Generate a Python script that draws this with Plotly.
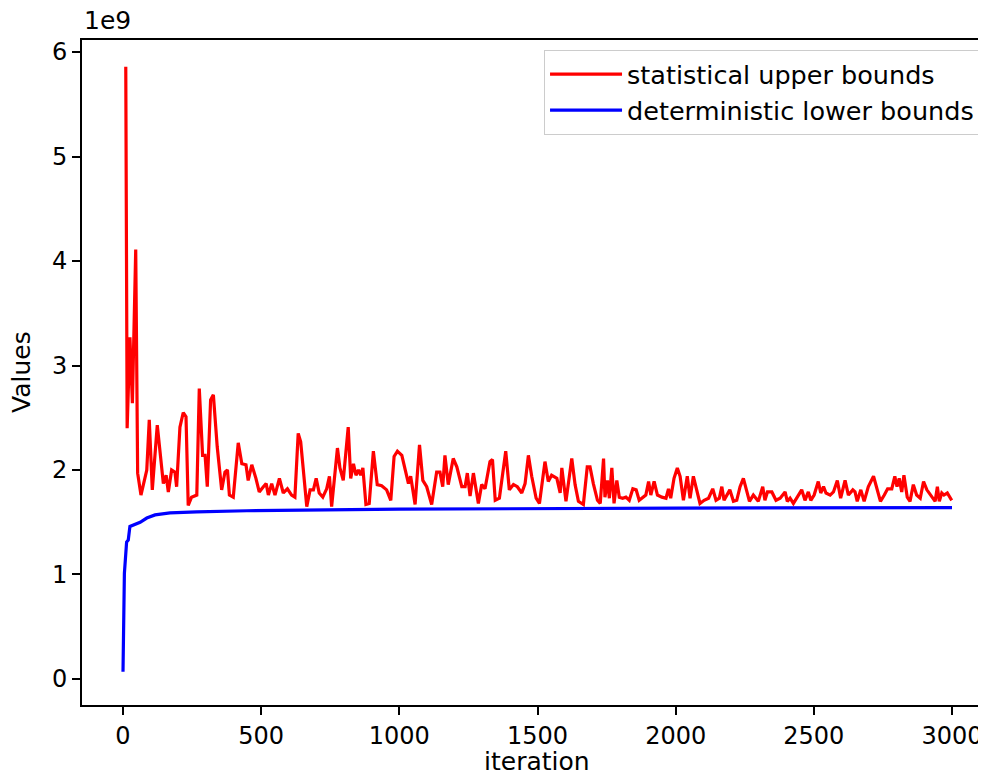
import numpy as np
import plotly.graph_objects as go

# statistical upper bounds (values in units of 1e9)
upper_iter = [10, 15, 25, 34, 46, 53, 65, 86, 95, 106, 124, 146, 156, 164, 176, 188, 194, 206, 218, 228,
              236, 248, 267, 276, 288, 297, 305, 317, 327, 341, 357, 369, 378, 385, 399, 417, 430, 445, 453, 466,
              481, 493, 508, 518, 526, 538, 550, 566, 580, 595, 610, 622, 634, 643, 665, 677, 689, 699, 710, 723,
              737, 747, 755, 776, 785, 797, 815, 824, 834, 843, 852, 860, 868, 879, 891, 906, 920, 936, 954, 969,
              981, 993, 1009, 1021, 1033, 1041, 1057, 1073, 1085, 1099, 1117, 1135, 1147, 1157, 1165, 1177, 1195, 1208, 1226, 1238,
              1246, 1256, 1268, 1286, 1298, 1310, 1328, 1337, 1347, 1362, 1374, 1385, 1398, 1413, 1427, 1443, 1455, 1467, 1479, 1495,
              1507, 1527, 1539, 1551, 1570, 1582, 1588, 1603, 1624, 1636, 1648, 1666, 1680, 1690, 1702, 1717, 1727, 1739, 1744, 1753,
              1760, 1769, 1777, 1787, 1796, 1808, 1820, 1832, 1845, 1857, 1868, 1880, 1892, 1902, 1910, 1922, 1934, 1950, 1965, 1974,
              1982, 1994, 2006, 2016, 2028, 2042, 2052, 2064, 2076, 2088, 2103, 2119, 2134, 2146, 2158, 2167, 2175, 2185, 2196, 2209,
              2221, 2233, 2245, 2257, 2267, 2281, 2299, 2315, 2323, 2332, 2348, 2363, 2378, 2396, 2404, 2414, 2426, 2440, 2456, 2468,
              2480, 2489, 2501, 2516, 2525, 2535, 2544, 2559, 2571, 2585, 2597, 2613, 2625, 2641, 2649, 2657, 2670, 2682, 2697, 2716,
              2728, 2741, 2755, 2767, 2782, 2793, 2801, 2809, 2818, 2826, 2838, 2848, 2860, 2872, 2885, 2897, 2909, 2923, 2939, 2947,
              2954, 2963, 2971, 2983, 2999]
upper_vals = [5.86, 2.40, 3.27, 2.64, 4.11, 1.97, 1.76, 2.00, 2.48, 1.81, 2.43, 1.87, 1.95, 1.79, 2.00, 1.98, 1.84, 2.41, 2.55, 2.51,
              1.66, 1.74, 1.76, 2.78, 2.14, 2.14, 1.84, 2.67, 2.72, 2.22, 1.81, 1.98, 2.00, 1.76, 1.74, 2.26, 2.06, 2.05, 1.90, 2.05,
              1.92, 1.79, 1.84, 1.87, 1.76, 1.87, 1.76, 1.92, 1.78, 1.82, 1.76, 1.74, 2.35, 2.27, 1.65, 1.81, 1.81, 1.92, 1.78, 1.74,
              1.82, 1.94, 1.65, 2.21, 2.02, 1.90, 2.41, 1.92, 2.06, 1.95, 2.00, 1.95, 2.02, 1.67, 1.68, 2.18, 1.86, 1.85, 1.81, 1.71,
              2.13, 2.18, 2.14, 2.00, 1.87, 1.94, 1.67, 2.24, 1.90, 1.84, 1.67, 1.98, 1.98, 1.84, 2.14, 1.86, 2.11, 2.03, 1.84, 1.84,
              1.97, 1.75, 1.97, 1.68, 1.86, 1.82, 2.08, 2.10, 1.71, 1.73, 1.94, 2.18, 1.81, 1.86, 1.84, 1.78, 1.87, 2.14, 1.94, 1.73,
              1.68, 2.08, 1.89, 1.95, 1.92, 1.78, 2.02, 1.70, 2.11, 1.86, 1.70, 1.67, 2.03, 2.03, 1.87, 1.71, 1.68, 2.11, 1.74, 1.90,
              1.73, 2.02, 1.68, 1.90, 1.74, 1.73, 1.74, 1.71, 1.82, 1.81, 1.71, 1.74, 1.76, 1.89, 1.76, 1.89, 1.76, 1.74, 1.73, 1.82,
              1.73, 1.92, 2.02, 1.94, 1.71, 1.94, 1.73, 1.94, 1.81, 1.68, 1.71, 1.73, 1.82, 1.71, 1.73, 1.84, 1.71, 1.76, 1.81, 1.70,
              1.71, 1.84, 1.92, 1.80, 1.70, 1.76, 1.70, 1.84, 1.71, 1.79, 1.79, 1.71, 1.73, 1.79, 1.70, 1.73, 1.68, 1.74, 1.81, 1.71,
              1.79, 1.71, 1.76, 1.89, 1.78, 1.84, 1.78, 1.76, 1.79, 1.90, 1.73, 1.90, 1.76, 1.81, 1.79, 1.70, 1.81, 1.70, 1.84, 1.94,
              1.82, 1.70, 1.76, 1.82, 1.82, 1.94, 1.84, 1.92, 1.79, 1.95, 1.74, 1.70, 1.86, 1.76, 1.73, 1.89, 1.81, 1.76, 1.70, 1.84,
              1.70, 1.78, 1.76, 1.78, 1.71]

# deterministic lower bounds (values in units of 1e9)
lower_iter = [0, 2, 5, 13, 19, 25, 43, 62, 86, 116, 170, 267, 448, 1000, 2000, 3000]
lower_vals = [0.07, 0.66, 1.01, 1.31, 1.33, 1.46, 1.48, 1.50, 1.54, 1.57, 1.59, 1.60, 1.61, 1.625, 1.635, 1.64]

y_ticks = [0, 1, 2, 3, 4, 5, 6]
x_ticks = [0, 500, 1000, 1500, 2000, 2500, 3000]
SCALE = 1e9

FONT = "DejaVu Sans"
FS = 25
fig = go.Figure()
fig.add_trace(go.Scatter(x=upper_iter, y=np.array(upper_vals) * SCALE, mode="lines",
                         line=dict(color="#ff0000", width=3.2), name="statistical upper bounds"))
fig.add_trace(go.Scatter(x=lower_iter, y=np.array(lower_vals) * SCALE, mode="lines",
                         line=dict(color="#0000ff", width=3.2), name="deterministic lower bounds"))

# page body has an 8px margin, so the figure is sized/offset to compensate
fig.update_layout(
    width=978, height=767,
    margin=dict(l=74, r=0, t=32, b=70, autoexpand=False),
    paper_bgcolor="white", plot_bgcolor="white",
    font=dict(family=FONT, size=FS, color="black"),
    showlegend=True,
    legend=dict(x=0.9934, y=0.985, xanchor="right", yanchor="top",
                bordercolor="#cccccc", borderwidth=1, bgcolor="rgba(255,255,255,0.8)",
                font=dict(size=25.5), itemwidth=72),
    xaxis=dict(range=[-148.4, 3123], tickvals=x_ticks, ticktext=[str(v) for v in x_ticks],
               showgrid=False, zeroline=False, showline=True, linecolor="black", linewidth=1.8,
               mirror=True, ticks="outside", ticklen=8, tickwidth=1.8, tickcolor="black",
               tickfont=dict(size=24), automargin=False),
    yaxis=dict(range=[-0.249 * SCALE, 6.115 * SCALE], tickvals=[v * SCALE for v in y_ticks],
               ticktext=[str(v) for v in y_ticks],
               showgrid=False, zeroline=False, showline=True, linecolor="black", linewidth=1.8,
               mirror=False, ticks="outside", ticklen=8, tickwidth=1.8, tickcolor="black",
               tickfont=dict(size=24), automargin=False),
    annotations=[
        dict(text="1e9", xref="paper", yref="paper", x=0, y=1.029, xanchor="left",
             yanchor="middle", showarrow=False, font=dict(size=FS)),
        dict(text="iteration", xref="paper", yref="paper", x=0.5033, y=-0.0855, xanchor="center",
             yanchor="middle", showarrow=False, font=dict(size=FS)),
        dict(text="Values", xref="paper", yref="paper", x=-0.0664, y=0.5008, xanchor="center",
             yanchor="middle", showarrow=False, textangle=-90, font=dict(size=FS)),
    ],
)

fig.write_html("out.html")
